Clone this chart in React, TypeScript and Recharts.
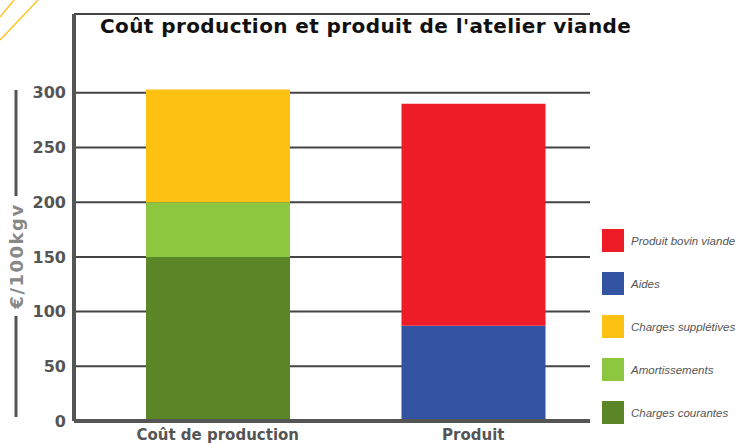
import React from 'react';
import { BarChart, Bar, XAxis, YAxis, CartesianGrid, Customized } from 'recharts';

const categories = ['Coût de production', 'Produit'];
const chargesCourantes = [150, 0];
const amortissements = [50, 0];
const chargesSuppletives = [103, 0];
const aides = [0, 87];
const produitBovin = [0, 203];
const yTicks = [0, 50, 100, 150, 200, 250, 300];

const series = [
  { key: 'courantes', name: 'Charges courantes', values: chargesCourantes, color: '#5a8628' },
  { key: 'amort', name: 'Amortissements', values: amortissements, color: '#8dc63f' },
  { key: 'suppl', name: 'Charges supplétives', values: chargesSuppletives, color: '#fdc112' },
  { key: 'aides', name: 'Aides', values: aides, color: '#3353a3' },
  { key: 'bovin', name: 'Produit bovin viande', values: produitBovin, color: '#ed1c27' },
];

const legendOrder = ['bovin', 'aides', 'suppl', 'amort', 'courantes'];

const data = categories.map((c, i) => {
  const row: any = { name: c };
  series.forEach(s => { row[s.key] = s.values[i]; });
  return row;
});

const font = '"DejaVu Sans", sans-serif';

const LegendBox = () => (
  <div style={{ position: 'absolute', left: 602, top: 229, display: 'flex', flexDirection: 'column', gap: 20 }}>
    {legendOrder.map(k => {
      const s = series.find(x => x.key === k)!;
      return (
        <div key={k} style={{ display: 'flex', alignItems: 'center', height: 23 }}>
          <div style={{ width: 22, height: 23, background: s.color, marginRight: 7 }} />
          <span style={{ fontFamily: '"Liberation Sans", sans-serif', fontStyle: 'italic', fontSize: 11.5, color: '#555', whiteSpace: 'nowrap' }}>{s.name}</span>
        </div>
      );
    })}
  </div>
);

const Decor = () => (
  <g>
    <line x1={0} y1={17} x2={14} y2={0} stroke="#fdc112" strokeWidth={1.3} />
    <line x1={0} y1={40} x2={38} y2={0} stroke="#fdc112" strokeWidth={1.3} />
    <text x={100} y={33} fontFamily={font} fontWeight="bold" fontSize={20} letterSpacing={0.4} fill="#111">
      Coût production et produit de l'atelier viande
    </text>
    <line x1={16} y1={90} x2={16} y2={196} stroke="#555" strokeWidth={3} />
    <line x1={16} y1={316} x2={16} y2={417} stroke="#555" strokeWidth={3} />
    <text x={23} y={256} transform="rotate(-90 23 256)" textAnchor="middle" fontFamily={font} fontWeight="bold" fontSize={18} letterSpacing={1.5} fill="#888">
      €/100kgv
    </text>
  </g>
);

export default function App() {
  return (
    <div style={{ position: 'absolute', left: 0, top: 0, width: 738, height: 444, background: '#fff' }}>
      <BarChart width={738} height={444} data={data} margin={{ top: 14, right: 148, bottom: 0, left: 14 }}>
        <CartesianGrid vertical={false} stroke="#444" strokeWidth={2} />
        <XAxis
          dataKey="name"
          height={23}
          padding={{ left: 16, right: -11 }}
          axisLine={{ stroke: '#555', strokeWidth: 4 }}
          tickLine={false}
          tickSize={0}
          tickMargin={8}
          tick={{ fontFamily: font, fontWeight: 'bold', fontSize: 15, fill: '#555' }}
        />
        <YAxis
          width={60}
          domain={[0, 372]}
          ticks={yTicks}
          axisLine={{ stroke: '#555', strokeWidth: 4 }}
          tickLine={false}
          tickSize={0}
          tickMargin={8}
          tick={{ fontFamily: font, fontWeight: 'bold', fontSize: 16, fill: '#555' }}
        />
        {series.map(s => (
          <Bar key={s.key} dataKey={s.key} name={s.name} stackId="a" fill={s.color} barSize={144} isAnimationActive={false} />
        ))}
        <Customized component={Decor} />
      </BarChart>
      <LegendBox />
    </div>
  );
}
